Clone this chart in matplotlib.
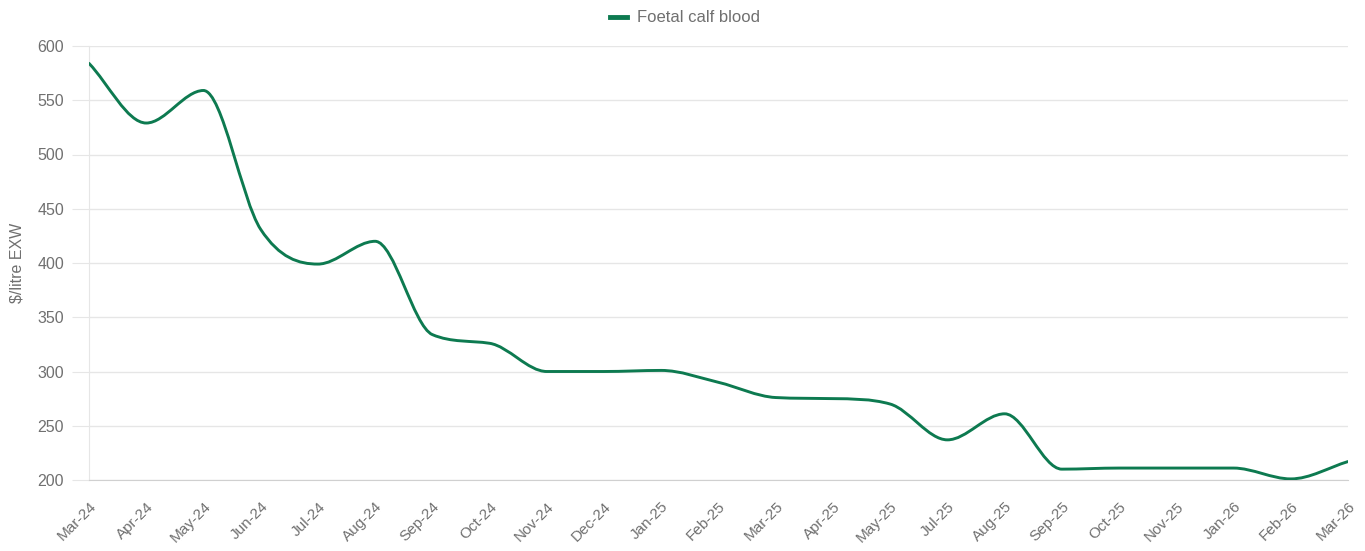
import matplotlib
matplotlib.use("Agg")
import matplotlib.pyplot as plt
from matplotlib.path import Path
from matplotlib.patches import PathPatch
from matplotlib.lines import Line2D
import numpy as np

plt.rcParams['font.family'] = ['Liberation Sans', 'DejaVu Sans']

categories = ["Mar-24", "Apr-24", "May-24", "Jun-24", "Jul-24", "Aug-24", "Sep-24",
              "Oct-24", "Nov-24", "Dec-24", "Jan-25", "Feb-25", "Mar-25", "Apr-25",
              "May-25", "Jul-25", "Aug-25", "Sep-25", "Oct-25", "Nov-25", "Jan-26",
              "Feb-26", "Mar-26"]
values = [584, 529, 559, 431, 399, 420, 334, 326, 300, 300, 301, 290, 276, 275,
          270, 237, 261, 210, 211, 211, 211, 201, 217]
series_name = "Foetal calf blood"
yticks = [200, 250, 300, 350, 400, 450, 500, 550, 600]

LINE = '#0d7a50'
GRID = '#e6e6e6'
TXT = '#707070'

fig = plt.figure(figsize=(13.65, 5.51), dpi=100)
ax = fig.add_axes([89/1365, (551-480)/551, (1348-89)/1365, (480-46)/551])

x = np.arange(len(values), dtype=float)
y = np.array(values, dtype=float)

# monotone cubic (Fritsch-Carlson) as Bezier segments
n = len(x)
d = np.diff(y) / np.diff(x)
m = np.zeros(n)
m[0] = d[0]; m[-1] = d[-1]
for i in range(1, n-1):
    if d[i-1] * d[i] <= 0:
        m[i] = 0
    else:
        m[i] = (d[i-1] + d[i]) / 2
for i in range(n-1):
    if d[i] == 0:
        m[i] = m[i+1] = 0
    else:
        a = m[i]/d[i]; b = m[i+1]/d[i]
        s = a*a + b*b
        if s > 9:
            t = 3/np.sqrt(s)
            m[i] = t*a*d[i]; m[i+1] = t*b*d[i]
verts = [(x[0], y[0])]
codes = [Path.MOVETO]
for i in range(n-1):
    h = x[i+1]-x[i]
    verts += [(x[i]+h/3, y[i]+m[i]*h/3), (x[i+1]-h/3, y[i+1]-m[i+1]*h/3), (x[i+1], y[i+1])]
    codes += [Path.CURVE4]*3
ax.add_patch(PathPatch(Path(verts, codes), facecolor='none', edgecolor=LINE,
                       lw=2.1, capstyle='round', joinstyle='round', zorder=3))
ax.plot(x, y, alpha=0)

ax.set_xlim(0, n-1)
ax.set_ylim(200, 600)
ax.set_yticks(yticks)
ax.set_xticks(x)
ax.set_xticklabels(categories, rotation=45, ha='right', rotation_mode='anchor')
ax.tick_params(axis='y', length=12, color=GRID, labelcolor=TXT, labelsize=11.5, pad=6)
ax.tick_params(axis='x', length=0, labelcolor=TXT, labelsize=11, pad=14)
ax.grid(axis='y', color=GRID, lw=1)
ax.set_axisbelow(True)
for s in ['top', 'right']:
    ax.spines[s].set_visible(False)
ax.spines['left'].set_color(GRID)
ax.spines['bottom'].set_color('#d0d0d0')
ax.set_ylabel("$/litre EXW", color=TXT, fontsize=11.5, labelpad=9)

h = Line2D([], [], color=LINE, lw=3.5)
fig.legend([h], [series_name], loc='center', bbox_to_anchor=(685/1365, 1-18/551),
           frameon=False, handlelength=1.0, handletextpad=0.6,
           prop={'size': 12}, labelcolor=TXT)

fig.savefig("out.png", dpi=100, facecolor='white')
